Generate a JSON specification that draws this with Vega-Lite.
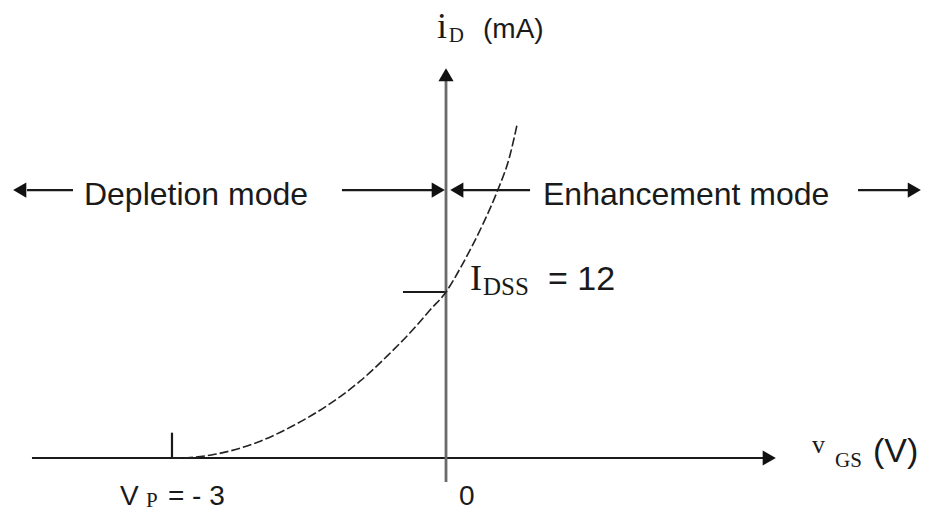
{
  "$schema": "https://vega.github.io/schema/vega-lite/v6.json",
  "width": 929,
  "height": 514,
  "padding": 0,
  "autosize": {"type": "fit", "contains": "padding"},
  "background": "white",
  "config": {"view": {"stroke": null}},
  "layer": [
    {
      "data": {"values": [
        {"part": "haxis", "x1": -4.533, "x2": 3.548, "y1": 0, "y2": 0},
        {"part": "vp", "x1": -3, "x2": -3, "y1": 0, "y2": 1.83},
        {"part": "idss", "x1": -0.471, "x2": 0, "y1": 12, "y2": 12},
        {"part": "dep1", "x1": -4.588, "x2": -4.084, "y1": 19.37, "y2": 19.37},
        {"part": "dep2", "x1": -1.139, "x2": -0.066, "y1": 19.37, "y2": 19.37},
        {"part": "enh1", "x1": 0.099, "x2": 0.92, "y1": 19.37, "y2": 19.37},
        {"part": "enh2", "x1": 4.511, "x2": 5.08, "y1": 19.37, "y2": 19.37}
      ]},
      "mark": {"type": "rule", "color": "#1a1a1a", "strokeWidth": 2.2},
      "encoding": {
        "x": {"field": "x1", "type": "quantitative", "scale": {"domain": [-4.883, 5.288], "nice": false, "zero": false}, "axis": null},
        "x2": {"field": "x2"},
        "y": {"field": "y1", "type": "quantitative", "scale": {"domain": [-4.048, 33.11], "nice": false, "zero": false}, "axis": null},
        "y2": {"field": "y2"}
      }
    },
    {
      "data": {"values": [
        {"x1": 0, "x2": 0, "y1": -1.735, "y2": 27.7}
      ]},
      "mark": {"type": "rule", "color": "#6a6a6a", "strokeWidth": 2.8},
      "encoding": {
        "x": {"field": "x1", "type": "quantitative", "scale": {"domain": [-4.883, 5.288], "nice": false, "zero": false}, "axis": null},
        "x2": {"field": "x2"},
        "y": {"field": "y1", "type": "quantitative", "scale": {"domain": [-4.048, 33.11], "nice": false, "zero": false}, "axis": null},
        "y2": {"field": "y2"}
      }
    },
    {
      "data": {"values": [
        {"v": -3.0, "i": 0},
        {"v": -2.8, "i": 0.04},
        {"v": -2.53, "i": 0.27},
        {"v": -2.04, "i": 1.2},
        {"v": -1.675, "i": 2.33},
        {"v": -1.303, "i": 3.78},
        {"v": -0.942, "i": 5.55},
        {"v": -0.64, "i": 7.4},
        {"v": -0.318, "i": 9.6},
        {"v": -0.175, "i": 10.7},
        {"v": 0, "i": 12.0},
        {"v": 0.175, "i": 13.95},
        {"v": 0.405, "i": 16.92},
        {"v": 0.558, "i": 19.23},
        {"v": 0.701, "i": 21.9},
        {"v": 0.777, "i": 24.07}
      ]},
      "mark": {"type": "line", "color": "#222222", "strokeWidth": 1.6, "strokeDash": [9, 3], "interpolate": "monotone"},
      "encoding": {
        "x": {"field": "v", "type": "quantitative", "scale": {"domain": [-4.883, 5.288], "nice": false, "zero": false}, "axis": null},
        "y": {"field": "i", "type": "quantitative", "scale": {"domain": [-4.048, 33.11], "nice": false, "zero": false}, "axis": null}
      }
    },
    {
      "data": {"values": [
        {"x": -4.667, "y": 19.37, "dir": "triangle-left"},
        {"x": -0.085, "y": 19.37, "dir": "triangle-right"},
        {"x": 0.118, "y": 19.37, "dir": "triangle-left"},
        {"x": 5.127, "y": 19.37, "dir": "triangle-right"},
        {"x": 0, "y": 27.71, "dir": "triangle-up"},
        {"x": 3.539, "y": 0, "dir": "triangle-right"}
      ]},
      "mark": {"type": "point", "filled": true, "color": "#111111", "opacity": 1, "size": 230, "strokeWidth": 0},
      "encoding": {
        "x": {"field": "x", "type": "quantitative", "scale": {"domain": [-4.883, 5.288], "nice": false, "zero": false}, "axis": null},
        "y": {"field": "y", "type": "quantitative", "scale": {"domain": [-4.048, 33.11], "nice": false, "zero": false}, "axis": null},
        "shape": {"field": "dir", "type": "nominal", "scale": null, "legend": null}
      }
    },
    {
      "data": {"values": [
        {"x": -3.964, "y": 18.29, "label": "Depletion mode"},
        {"x": 1.062, "y": 18.29, "label": "Enhancement mode"}
      ]},
      "mark": {"type": "text", "align": "left", "baseline": "alphabetic", "font": "Liberation Sans", "fontSize": 32, "color": "#1a1a1a"},
      "encoding": {
        "x": {"field": "x", "type": "quantitative", "scale": {"domain": [-4.883, 5.288], "nice": false, "zero": false}, "axis": null},
        "y": {"field": "y", "type": "quantitative", "scale": {"domain": [-4.048, 33.11], "nice": false, "zero": false}, "axis": null},
        "text": {"field": "label"}
      }
    },
    {
      "data": {"values": [
        {"x": 1.117, "y": 12.14, "label": "= 12"},
        {"x": 4.675, "y": -0.289, "label": "(V)"}
      ]},
      "mark": {"type": "text", "align": "left", "baseline": "alphabetic", "font": "Liberation Sans", "fontSize": 34, "color": "#1a1a1a"},
      "encoding": {
        "x": {"field": "x", "type": "quantitative", "scale": {"domain": [-4.883, 5.288], "nice": false, "zero": false}, "axis": null},
        "y": {"field": "y", "type": "quantitative", "scale": {"domain": [-4.048, 33.11], "nice": false, "zero": false}, "axis": null},
        "text": {"field": "label"}
      }
    },
    {
      "data": {"values": [
        {"x": 0.405, "y": 30.36, "label": "(mA)"},
        {"x": 0.142, "y": -3.398, "label": "0"},
        {"x": -3.044, "y": -3.398, "label": "= - 3"},
        {"x": -3.569, "y": -3.398, "label": "V"}
      ]},
      "mark": {"type": "text", "align": "left", "baseline": "alphabetic", "font": "Liberation Sans", "fontSize": 28, "color": "#1a1a1a"},
      "encoding": {
        "x": {"field": "x", "type": "quantitative", "scale": {"domain": [-4.883, 5.288], "nice": false, "zero": false}, "axis": null},
        "y": {"field": "y", "type": "quantitative", "scale": {"domain": [-4.048, 33.11], "nice": false, "zero": false}, "axis": null},
        "text": {"field": "label"}
      }
    },
    {
      "data": {"values": [
        {"x": -0.0985, "y": 30.36, "label": "i"},
        {"x": 0.263, "y": 12.14, "label": "I"}
      ]},
      "mark": {"type": "text", "align": "left", "baseline": "alphabetic", "font": "Liberation Serif", "fontSize": 36, "color": "#1a1a1a"},
      "encoding": {
        "x": {"field": "x", "type": "quantitative", "scale": {"domain": [-4.883, 5.288], "nice": false, "zero": false}, "axis": null},
        "y": {"field": "y", "type": "quantitative", "scale": {"domain": [-4.048, 33.11], "nice": false, "zero": false}, "axis": null},
        "text": {"field": "label"}
      }
    },
    {
      "data": {"values": [
        {"x": 4.007, "y": 0.361, "label": "v"}
      ]},
      "mark": {"type": "text", "align": "left", "baseline": "alphabetic", "font": "Liberation Serif", "fontSize": 26, "color": "#1a1a1a"},
      "encoding": {
        "x": {"field": "x", "type": "quantitative", "scale": {"domain": [-4.883, 5.288], "nice": false, "zero": false}, "axis": null},
        "y": {"field": "y", "type": "quantitative", "scale": {"domain": [-4.048, 33.11], "nice": false, "zero": false}, "axis": null},
        "text": {"field": "label"}
      }
    },
    {
      "data": {"values": [
        {"x": 0.03, "y": 30.07, "label": "D"},
        {"x": 4.259, "y": -0.651, "label": "GS"},
        {"x": -3.285, "y": -3.54, "label": "P"}
      ]},
      "mark": {"type": "text", "align": "left", "baseline": "alphabetic", "font": "Liberation Serif", "fontSize": 21, "color": "#1a1a1a"},
      "encoding": {
        "x": {"field": "x", "type": "quantitative", "scale": {"domain": [-4.883, 5.288], "nice": false, "zero": false}, "axis": null},
        "y": {"field": "y", "type": "quantitative", "scale": {"domain": [-4.048, 33.11], "nice": false, "zero": false}, "axis": null},
        "text": {"field": "label"}
      }
    },
    {
      "data": {"values": [
        {"x": 0.405, "y": 11.78, "label": "DSS"}
      ]},
      "mark": {"type": "text", "align": "left", "baseline": "alphabetic", "font": "Liberation Serif", "fontSize": 25, "color": "#1a1a1a"},
      "encoding": {
        "x": {"field": "x", "type": "quantitative", "scale": {"domain": [-4.883, 5.288], "nice": false, "zero": false}, "axis": null},
        "y": {"field": "y", "type": "quantitative", "scale": {"domain": [-4.048, 33.11], "nice": false, "zero": false}, "axis": null},
        "text": {"field": "label"}
      }
    }
  ]
}
